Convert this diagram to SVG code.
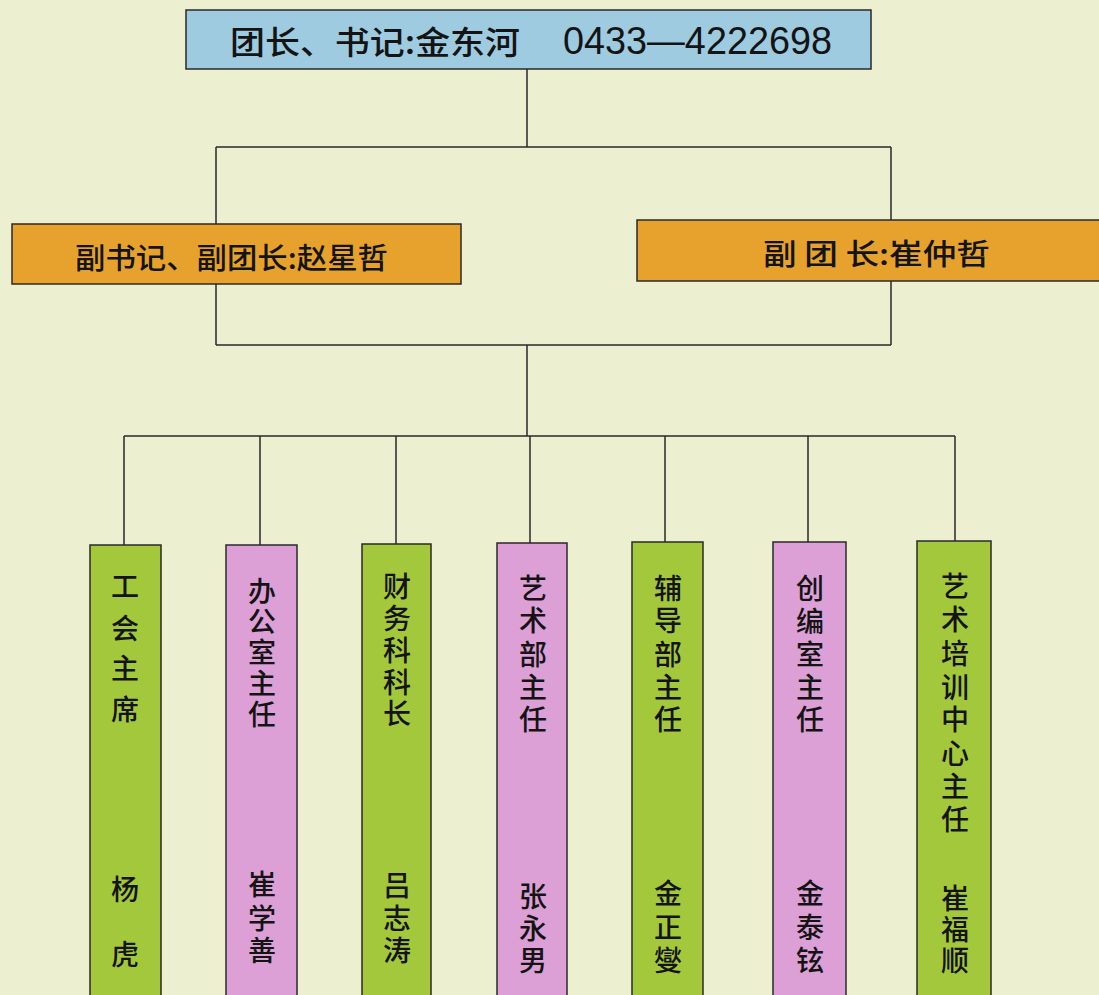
<svg xmlns="http://www.w3.org/2000/svg" width="1099" height="995" viewBox="0 0 1099 995">
<style>
.box{stroke:#2a2a2a;stroke-width:1.5}
.blue{fill:#9ecbe0}
.orange{fill:#e6a22c}
.green{fill:#a4c83c}
.pink{fill:#dca0d6}
.t{font-family:"Noto Sans CJK SC","Noto Sans",sans-serif;fill:#141414;font-weight:500}
.v{font-family:"Noto Sans CJK SC",sans-serif;fill:#141414;font-weight:500;font-size:28px;text-anchor:middle;dominant-baseline:central}
.line{stroke:#2a2a2a;stroke-width:1.5;fill:none}
</style>
<rect width="1099" height="995" fill="#edefd1"/>
<g id="connectors">
<path class="line" d="M527 69V147M216 147H891M216 147V224M891 147V220"/>
<path class="line" d="M216 284V345M891 281V345M216 345H891M527 345V436"/>
<path class="line" d="M124 436H955M124 436V545M260 436V545M396 436V544M530 436V543M665 436V542M808 436V542M955 436V541"/>
</g>
<g id="n-top">
<rect class="box blue" x="186" y="10" width="685" height="59"/>
<text class="t" x="230" y="54" font-size="32" textLength="290" lengthAdjust="spacingAndGlyphs">团长、书记:金东河</text>
<text x="563" y="54" font-family="Liberation Sans,Arial,sans-serif" font-size="38" fill="#141414" textLength="269" lengthAdjust="spacingAndGlyphs">0433—4222698</text>
</g>
<g id="n-left">
<rect class="box orange" x="12" y="224" width="449" height="60"/>
<text class="t" x="75" y="269" font-size="29" textLength="313" lengthAdjust="spacingAndGlyphs">副书记、副团长:赵星哲</text>
</g>
<g id="n-right">
<rect class="box orange" x="637" y="220" width="470" height="61"/>
<text class="t" x="763" y="265" font-size="29" textLength="227" lengthAdjust="spacingAndGlyphs">副 团 长:崔仲哲</text>
</g>
<g id="c1">
<rect class="box green" x="90" y="545" width="71" height="460"/>
<text class="v"><tspan x="125" y="585">工</tspan><tspan x="125" y="627">会</tspan><tspan x="125" y="667">主</tspan><tspan x="125" y="708">席</tspan><tspan x="125" y="888">杨</tspan><tspan x="125" y="953">虎</tspan></text>
</g>
<g id="c2">
<rect class="box pink" x="226" y="545" width="71" height="460"/>
<text class="v"><tspan x="262" y="590">办</tspan><tspan x="262" y="620">公</tspan><tspan x="262" y="651">室</tspan><tspan x="262" y="682">主</tspan><tspan x="262" y="713">任</tspan><tspan x="262" y="883">崔</tspan><tspan x="262" y="917">学</tspan><tspan x="262" y="949">善</tspan></text>
</g>
<g id="c3">
<rect class="box green" x="362" y="544" width="69" height="460"/>
<text class="v"><tspan x="397" y="585">财</tspan><tspan x="397" y="617">务</tspan><tspan x="397" y="649">科</tspan><tspan x="397" y="681">科</tspan><tspan x="397" y="712">长</tspan><tspan x="397" y="884">吕</tspan><tspan x="397" y="917">志</tspan><tspan x="397" y="949">涛</tspan></text>
</g>
<g id="c4">
<rect class="box pink" x="497" y="543" width="70" height="460"/>
<text class="v"><tspan x="533" y="587">艺</tspan><tspan x="533" y="619">术</tspan><tspan x="533" y="653">部</tspan><tspan x="533" y="686">主</tspan><tspan x="533" y="718">任</tspan><tspan x="533" y="895">张</tspan><tspan x="533" y="927">永</tspan><tspan x="533" y="959">男</tspan></text>
</g>
<g id="c5">
<rect class="box green" x="632" y="542" width="71" height="460"/>
<text class="v"><tspan x="668" y="587">辅</tspan><tspan x="668" y="619">导</tspan><tspan x="668" y="653">部</tspan><tspan x="668" y="686">主</tspan><tspan x="668" y="718">任</tspan><tspan x="668" y="892">金</tspan><tspan x="668" y="926">正</tspan><tspan x="668" y="959">燮</tspan></text>
</g>
<g id="c6">
<rect class="box pink" x="773" y="542" width="73" height="460"/>
<text class="v"><tspan x="810" y="587">创</tspan><tspan x="810" y="620">编</tspan><tspan x="810" y="653">室</tspan><tspan x="810" y="686">主</tspan><tspan x="810" y="718">任</tspan><tspan x="810" y="892">金</tspan><tspan x="810" y="926">泰</tspan><tspan x="810" y="959">铉</tspan></text>
</g>
<g id="c7">
<rect class="box green" x="917" y="541" width="74" height="460"/>
<text class="v"><tspan x="955" y="585">艺</tspan><tspan x="955" y="618">术</tspan><tspan x="955" y="652">培</tspan><tspan x="955" y="686">训</tspan><tspan x="955" y="718">中</tspan><tspan x="955" y="752">心</tspan><tspan x="955" y="785">主</tspan><tspan x="955" y="818">任</tspan><tspan x="955" y="897">崔</tspan><tspan x="955" y="928">福</tspan><tspan x="955" y="959">顺</tspan></text>
</g>
</svg>
